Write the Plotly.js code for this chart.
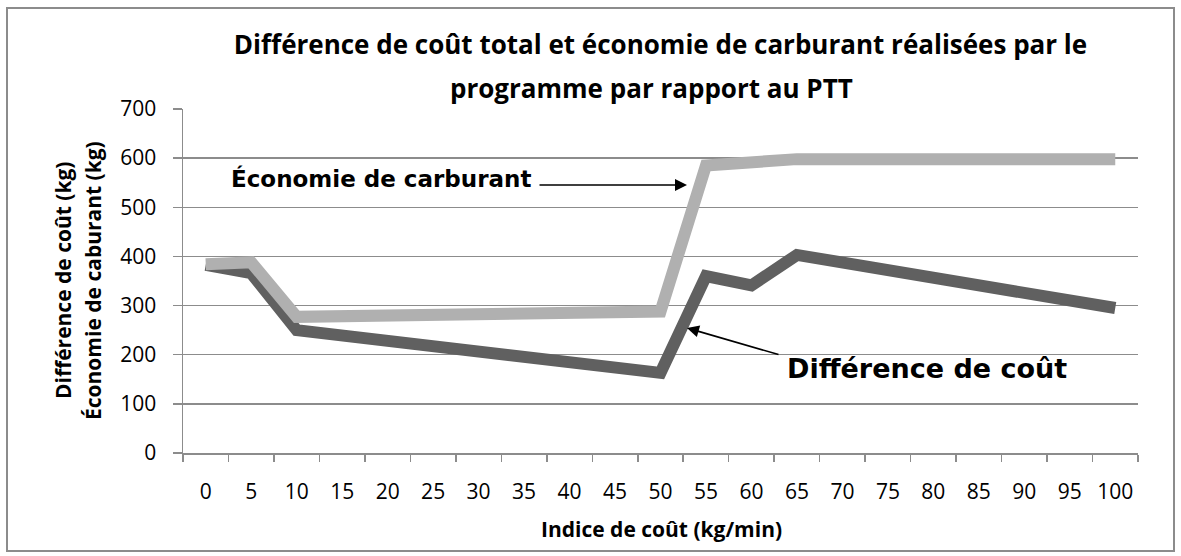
<!DOCTYPE html>
<html>
<head>
<meta charset="utf-8">
<script src="https://cdn.plot.ly/plotly-3.0.1.min.js"></script>
<style>html,body{margin:0;padding:0;background:#fff;}#chart{width:1181px;height:556px;}</style>
</head>
<body>
<div id="chart"></div>
<script>
// Indice de coût (kg/min) categories
const categories = ["0","5","10","15","20","25","30","35","40","45","50","55","60","65","70","75","80","85","90","95","100"];
// Économie de carburant (kg) (null = no point, line connects)
const economieCarburant = [384, 388, 277, null, null, null, null, null, null, null, 288, 585, 589, 598, null, null, null, null, null, null, 598];
// Différence de coût (kg)
const differenceCout = [383, 366, 250, null, null, null, null, null, null, null, 163, 360, 341, 403, null, null, null, null, null, null, 295];
const yTicks = [0, 100, 200, 300, 400, 500, 600, 700];

const W = 1181, H = 556;
const L = 183, R = 43, T = 109, B = 103;
const pw = W - L - R, ph = H - T - B;
const px = x => (x - L) / pw;
const py = y => (H - B - y) / ph;

const tickFont = {family: "Open Sans, sans-serif", size: 21, color: "#000"};
const boldFont = {family: "Open Sans, sans-serif", size: 26, color: "#000", weight: "bold"};
const axisTitleFont = {family: "Open Sans, sans-serif", size: 21, color: "#000", weight: "bold"};
const annFont = {family: "DejaVu Sans, Verdana, sans-serif", size: 23, color: "#000", weight: "bold"};

const traces = [
  {x: categories, y: differenceCout, type: "scatter", mode: "lines", connectgaps: true,
   line: {color: "#606060", width: 12}, name: "Différence de coût", hoverinfo: "x+y"},
  {x: categories, y: economieCarburant, type: "scatter", mode: "lines", connectgaps: true,
   line: {color: "#b0b0b0", width: 12}, name: "Économie de carburant", hoverinfo: "x+y"}
];

const layout = {
  width: W, height: H,
  margin: {l: L, r: R, t: T, b: B},
  paper_bgcolor: "#fff", plot_bgcolor: "#fff",
  showlegend: false,
  title: {text: "<b>Différence de coût total et économie de carburant réalisées par le</b>",
          font: boldFont, x: 0.5, xref: "paper", xanchor: "center",
          y: 1 - 45 / H, yref: "container", yanchor: "middle"},
  xaxis: {type: "category", range: [-0.5, 20.5], tickson: "boundaries", tickangle: 0,
          ticks: "outside", ticklen: 7, tickcolor: "#8c8c8c", tickwidth: 1.5,
          showline: true, linecolor: "#8c8c8c", linewidth: 1.5, showgrid: false,
          tickfont: tickFont, ticklabelstandoff: 19, zeroline: false, fixedrange: true},
  yaxis: {range: [0, 700], tickvals: yTicks, ticks: "outside", ticklen: 9,
          tickcolor: "#8c8c8c", tickwidth: 1.5,
          showline: true, linecolor: "#8c8c8c", linewidth: 1.5,
          showgrid: true, gridcolor: "#8c8c8c", gridwidth: 1.5, zeroline: false,
          tickfont: tickFont, ticklabelstandoff: 12, fixedrange: true},
  shapes: [
    {type: "rect", xref: "paper", yref: "paper", x0: px(7), x1: px(1174), y0: py(551), y1: py(8),
     line: {color: "#8c8c8c", width: 2}, fillcolor: "rgba(0,0,0,0)", layer: "below"}
  ],
  annotations: [
    {text: "<b>programme par rapport au PTT</b>", xref: "paper", yref: "paper",
     x: px(651), y: py(88), showarrow: false, font: boldFont, xanchor: "center", yanchor: "middle"},
    {text: "<b>Indice de coût (kg/min)</b>", xref: "paper", yref: "paper",
     x: px(661), y: py(529), showarrow: false, font: axisTitleFont,
     xanchor: "center", yanchor: "middle"},
    {text: "<b>Différence de coût (kg)</b>", xref: "paper", yref: "paper", textangle: -90,
     x: px(63), y: py(281), showarrow: false, font: axisTitleFont,
     xanchor: "center", yanchor: "middle"},
    {text: "<b>Économie de caburant (kg)</b>", xref: "paper", yref: "paper", textangle: -90,
     x: px(93), y: py(281), showarrow: false, font: axisTitleFont,
     xanchor: "center", yanchor: "middle"},
    {text: "<b>Économie de carburant</b>", xref: "paper", yref: "paper",
     x: px(381), y: py(178), showarrow: false, font: annFont, xanchor: "center", yanchor: "middle"},
    {text: "<b>Différence de coût</b>", xref: "paper", yref: "paper",
     x: px(927), y: py(368), showarrow: false, font: Object.assign({}, annFont, {size: 27}),
     xanchor: "center", yanchor: "middle"},
    {text: "", xref: "paper", yref: "paper", x: px(687), y: py(185),
     showarrow: true, ax: 538 - 687, ay: 0, arrowhead: 2, arrowsize: 1.5, arrowwidth: 1.6, arrowcolor: "#000"},
    {text: "", xref: "paper", yref: "paper", x: px(687), y: py(328),
     showarrow: true, ax: 780 - 687, ay: 355 - 328, arrowhead: 2, arrowsize: 1.5, arrowwidth: 1.6, arrowcolor: "#000"}
  ]
};

Plotly.newPlot("chart", traces, layout, {displayModeBar: false, staticPlot: true});
</script>
</body>
</html>
